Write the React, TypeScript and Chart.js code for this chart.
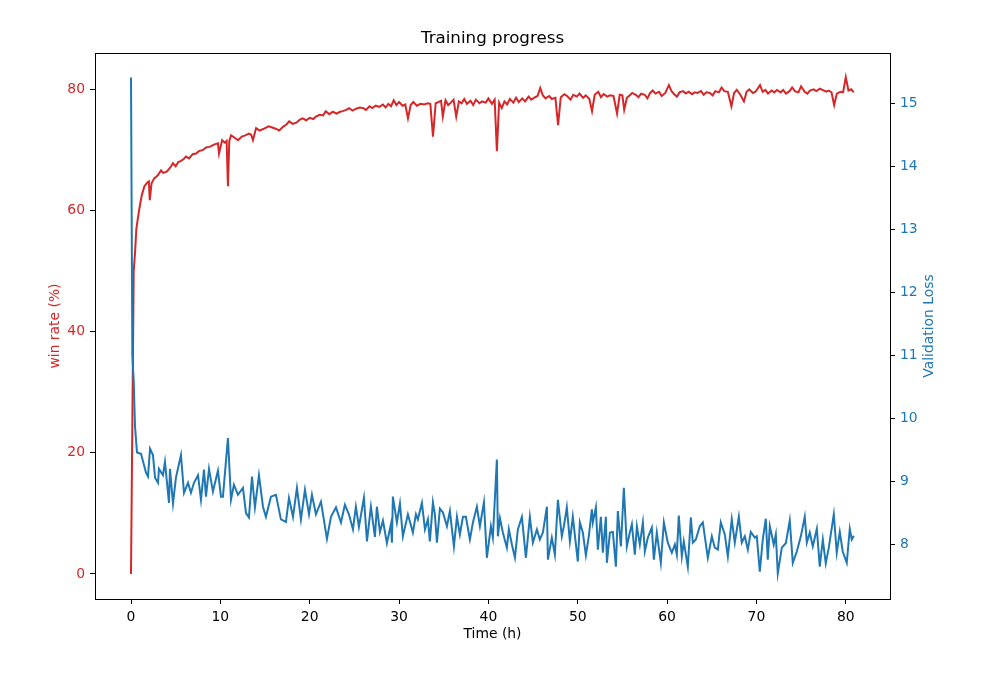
import React, { useEffect, useRef } from "react";
import { Chart, registerables } from "chart.js";

Chart.register(...registerables);

// Win rate series (left axis)
const winTime = [
  0, 0.3, 0.45, 0.6, 0.9, 1.2, 1.5, 1.8, 2.0, 2.1,
  2.3, 2.6, 3.0, 3.36, 3.6, 4.0, 4.4, 4.7, 5.0, 5.3,
  5.6, 5.9, 6.15, 6.5, 6.9, 7.27, 7.6, 8.06, 8.4, 8.8,
  9.17, 9.5, 9.73, 9.85, 10.2, 10.5, 10.7, 10.85, 11.0, 11.2,
  11.6, 11.97, 12.4, 12.8, 13.2, 13.45, 13.65, 14.0, 14.4, 14.9,
  15.4, 15.8, 16.2, 16.6, 17.0, 17.4, 17.7, 18.1, 18.5, 18.9,
  19.2, 19.6, 20.0, 20.4, 20.7, 21.1, 21.5, 21.8, 22.2, 22.6,
  23.0, 23.4, 23.7, 24.1, 24.4, 24.8, 25.2, 25.6, 26.0, 26.3,
  26.7, 27.0, 27.4, 27.8, 28.2, 28.5, 28.8, 29.1, 29.4, 29.7,
  30.0, 30.4, 30.7, 31.0, 31.3, 31.6, 32.0, 32.4, 32.8, 33.2,
  33.5, 33.8, 34.1, 34.4, 34.7, 34.9, 35.2, 35.5, 35.8, 36.1,
  36.4, 36.7, 37.0, 37.3, 37.6, 38.0, 38.3, 38.6, 39.0, 39.3,
  39.7, 40.0, 40.4, 40.7, 40.95, 41.2, 41.5, 41.8, 42.1, 42.4,
  42.8, 43.1, 43.4, 43.8, 44.1, 44.5, 44.8, 45.1, 45.5, 45.8,
  46.1, 46.4, 46.8, 47.1, 47.5, 47.8, 48.1, 48.5, 48.8, 49.2,
  49.5, 49.9, 50.2, 50.6, 50.9, 51.3, 51.6, 51.9, 52.3, 52.6,
  52.9, 53.3, 53.6, 54.0, 54.4, 54.7, 55.0, 55.2, 55.5, 55.8,
  56.1, 56.5, 56.8, 57.1, 57.5, 57.8, 58.1, 58.4, 58.7, 59.1,
  59.4, 59.8, 60.2, 60.5, 60.8, 61.1, 61.4, 61.8, 62.1, 62.4,
  62.8, 63.1, 63.4, 63.8, 64.1, 64.4, 64.8, 65.1, 65.4, 65.8,
  66.1, 66.4, 66.8, 67.2, 67.5, 67.8, 68.2, 68.6, 68.9, 69.2,
  69.6, 69.9, 70.4, 70.7, 71.0, 71.3, 71.7, 72.0, 72.3, 72.7,
  73.0, 73.3, 73.7, 74.0, 74.3, 74.7, 75.0, 75.4, 75.7, 76.0,
  76.4, 76.7, 77.1, 77.4, 77.8, 78.1, 78.4, 78.7, 79.0, 79.4,
  79.7, 80.0, 80.3, 80.6, 80.9,
];
const winRate = [
  0, 50, 53, 57, 60, 62.5, 64, 64.6, 64.8, 61.7,
  64.5, 65.3, 65.8, 66.6, 66.2, 66.4, 67.1, 67.8, 67.3, 68.0,
  68.2, 68.5, 68.9, 68.6, 69.3, 69.4, 69.8, 70.0, 70.4, 70.5,
  70.8, 71.0, 71.1, 69.4, 71.6, 71.2, 71.5, 64.0, 71.5, 72.4,
  72.0, 71.6, 72.2, 72.4, 72.7, 72.5, 71.6, 73.6, 73.2, 73.5,
  73.9, 73.7, 73.5, 73.2, 73.8, 74.2, 74.7, 74.3, 74.5, 75.0,
  75.2, 74.9, 75.3, 75.1, 75.5, 75.8, 75.7, 76.4, 75.9, 76.3,
  76.0, 76.3, 76.4, 76.6, 76.9, 76.5, 76.8, 77.0, 76.9, 76.6,
  77.2, 76.9, 77.3, 77.1, 77.5, 77.0, 77.6, 77.2, 78.2, 77.4,
  77.9, 77.3, 77.5, 75.2, 77.4, 77.9, 77.3, 77.6, 77.5, 77.7,
  77.6, 72.2, 77.7, 77.9, 78.1, 75.5, 78.2, 77.4, 77.8, 78.3,
  75.5, 78.0, 77.7, 78.4, 77.6, 78.1, 77.4, 78.3, 77.7, 78.0,
  77.8, 78.5, 77.6, 78.3, 69.8, 77.8, 76.9, 78.0, 77.5, 78.4,
  77.8, 78.6, 77.9, 78.5, 78.0, 78.8, 78.3, 78.6, 78.9, 80.2,
  79.0, 78.5, 78.9, 78.4, 78.6, 74.1, 78.7, 79.2, 78.9, 78.3,
  79.1, 78.8, 79.3, 78.6, 79.0, 78.4, 76.4, 79.1, 79.6, 78.7,
  79.2, 78.8, 79.0, 78.9, 76.0, 79.1, 79.0, 76.6, 78.6, 79.0,
  79.4, 79.1, 78.7, 79.3, 79.1, 78.5, 79.4, 79.8, 79.3, 79.6,
  78.9, 79.4, 80.7, 79.7, 79.2, 78.8, 79.5, 79.7, 79.3, 79.6,
  79.2, 79.5, 79.4, 79.7, 79.1, 79.5, 79.4, 79.0, 79.7, 79.5,
  80.3, 79.7, 79.6, 77.2, 79.4, 79.9, 79.1, 78.0, 79.6, 80.0,
  79.4, 79.6, 80.7, 79.6, 79.9, 79.3, 79.8, 79.5, 79.9, 79.5,
  79.9, 79.3, 79.7, 80.3, 79.7, 79.5, 80.5, 79.6, 79.3, 79.8,
  80.0, 79.7, 80.1, 79.9, 79.6, 79.8, 79.5, 77.4, 79.3, 79.6,
  79.5, 82.0, 79.8, 80.0, 79.5,
];

// Validation loss series (right axis)
const lossTime = [
  0, 0.15, 0.3, 0.45, 0.67, 1.12, 1.68, 1.9, 2.13, 2.46,
  2.69, 3.02, 3.13, 3.58, 3.8, 4.25, 4.36, 4.7, 5.03, 5.59,
  5.93, 6.38, 6.71, 7.05, 7.5, 7.83, 8.17, 8.39, 8.73, 9.17,
  9.73, 10.07, 10.29, 10.85, 11.19, 11.52, 11.97, 12.53, 12.87, 13.2,
  13.54, 13.87, 14.32, 14.77, 15.1, 15.66, 16.22, 16.78, 17.34, 17.68,
  18.13, 18.57, 19.02, 19.47, 19.92, 20.25, 20.7, 21.26, 21.93, 22.38,
  22.94, 23.5, 23.94, 24.39, 24.84, 25.17, 25.51, 26.07, 26.41, 26.85,
  27.3, 27.52, 27.86, 28.2, 28.64, 29.09, 29.2, 29.31, 29.76, 30.1,
  30.43, 30.99, 31.55, 31.89, 32.11, 32.56, 32.9, 33.23, 33.45, 33.79,
  34.01, 34.24, 34.57, 34.91, 35.36, 35.69, 36.14, 36.48, 36.81, 37.15,
  37.48, 37.93, 38.27, 38.71, 39.05, 39.5, 39.83, 40.28, 40.5, 40.95,
  41.06, 41.29, 41.62, 42.07, 42.29, 42.63, 42.97, 43.3, 43.75, 44.2,
  44.64, 44.98, 45.43, 45.76, 46.1, 46.55, 46.66, 47.1, 47.44, 47.78,
  48.22, 48.45, 48.78, 49.12, 49.45, 50.01, 50.24, 50.57, 50.91, 51.24,
  51.58, 51.69, 52.03, 52.25, 52.59, 52.81, 53.15, 53.26, 53.6, 53.93,
  54.27, 54.49, 54.83, 55.16, 55.5, 55.83, 56.06, 56.39, 56.62, 56.95,
  57.29, 57.51, 57.85, 58.29, 58.52, 58.85, 59.3, 59.64, 60.08, 60.53,
  60.87, 61.09, 61.31, 61.65, 61.87, 62.32, 62.66, 62.88, 63.22, 63.66,
  64.0, 64.56, 65.01, 65.34, 65.68, 66.01, 66.46, 66.8, 67.24, 67.58,
  68.03, 68.36, 68.7, 69.04, 69.37, 69.82, 70.04, 70.38, 70.71, 71.05,
  71.27, 71.5, 71.94, 72.17, 72.39, 72.84, 73.29, 73.73, 74.07, 74.52,
  74.97, 75.41, 75.64, 75.97, 76.31, 76.76, 77.09, 77.43, 77.76, 78.1,
  78.66, 78.99, 79.33, 79.66, 80.11, 80.45, 80.67, 80.9,
];
const lossValue = [
  15.41, 11.0, 10.6, 9.87, 9.46, 9.44, 9.14, 9.08, 9.52, 9.42,
  9.06, 8.98, 9.2, 9.1, 9.31, 8.66, 9.2, 8.65, 9.06, 9.42,
  8.82, 8.98, 8.82, 8.98, 9.1, 8.71, 9.19, 8.76, 9.2, 8.84,
  9.17, 8.76, 8.76, 9.69, 8.71, 8.95, 8.79, 8.9, 8.5, 8.43,
  9.08, 8.59, 9.1, 8.6, 8.44, 8.76, 8.79, 8.4, 8.36, 8.74,
  8.44, 8.9, 8.4, 8.87, 8.48, 8.79, 8.48, 8.68, 8.09, 8.44,
  8.59, 8.35, 8.63, 8.48, 8.24, 8.6, 8.28, 8.74, 8.05, 8.6,
  8.12, 8.6, 8.2, 8.38, 8.02, 8.32, 8.03, 8.76, 8.35, 8.65,
  8.13, 8.48, 8.19, 8.48, 8.4, 8.66, 8.24, 8.4, 8.05, 8.67,
  8.48, 8.03, 8.57, 8.51, 8.29, 8.53, 7.97, 8.44, 8.16, 8.44,
  8.44, 8.08, 8.35, 8.6, 8.29, 8.67, 7.79, 8.29, 8.11, 9.35,
  8.13, 8.42, 8.19, 7.95, 8.24, 8.0, 7.79, 8.24, 8.44, 7.79,
  8.44, 8.03, 8.24, 8.08, 8.19, 8.6, 7.76, 8.11, 7.84, 8.71,
  8.13, 8.29, 8.59, 8.05, 8.44, 7.73, 8.35, 8.19, 7.83, 8.13,
  8.56, 8.35, 8.59, 7.92, 8.44, 7.87, 8.44, 7.71, 8.19, 8.2,
  7.65, 8.53, 7.97, 8.9, 7.97, 8.19, 8.32, 7.84, 8.29, 8.0,
  8.35, 7.89, 8.11, 8.27, 7.76, 8.19, 7.71, 8.35, 8.03, 7.87,
  8.0, 7.84, 8.46, 7.81, 8.05, 7.65, 8.43, 8.03, 8.08, 8.29,
  8.35, 7.79, 8.13, 7.95, 7.92, 8.35, 8.16, 7.81, 8.4, 8.03,
  8.44, 8.03, 8.13, 7.92, 8.2, 8.11, 8.13, 7.57, 8.08, 8.41,
  7.76, 8.29, 8.0, 8.16, 7.54, 7.95, 8.02, 8.38, 7.71, 7.89,
  8.13, 8.44, 8.03, 8.19, 7.97, 8.25, 7.65, 8.08, 7.7, 7.95,
  8.48, 7.87, 8.2, 7.89, 7.71, 8.25, 8.08, 8.14,
];

const xTicks = [0, 10, 20, 30, 40, 50, 60, 70, 80];
const winTicks = [0, 20, 40, 60, 80];
const lossTicks = [8, 9, 10, 11, 12, 13, 14, 15];

const RED = "#d62728";
const BLUE = "#1f77b4";
const FONT = "DejaVu Sans";

export default function App() {
  const ref = useRef<HTMLCanvasElement | null>(null);

  useEffect(() => {
    document.body.style.margin = "0";
    const canvas = ref.current;
    if (!canvas) return;

    const framePlugin = {
      id: "frame",
      afterDraw(chart: any) {
        const { ctx, chartArea } = chart;
        ctx.save();
        ctx.strokeStyle = "#000";
        ctx.lineWidth = 1;
        ctx.strokeRect(
          Math.round(chartArea.left) + 0.5,
          Math.round(chartArea.top) + 0.5,
          Math.round(chartArea.right - chartArea.left),
          Math.round(chartArea.bottom - chartArea.top)
        );
        // right axis title, reading bottom to top
        ctx.fillStyle = BLUE;
        ctx.font = `13.9px "${FONT}"`;
        ctx.textAlign = "center";
        ctx.textBaseline = "middle";
        ctx.translate(929.5, (chartArea.top + chartArea.bottom) / 2);
        ctx.rotate(-Math.PI / 2);
        ctx.fillText("Validation Loss", 0, 0);
        ctx.restore();
      },
    };

    const tickGrid = {
      drawOnChartArea: false,
      drawTicks: true,
      tickLength: 5,
      tickColor: "#000",
      tickWidth: 1,
      color: "#000",
    };

    const chart = new Chart(canvas, {
      type: "line",
      data: {
        datasets: [
          {
            label: "win rate",
            data: winTime.map((t, i) => ({ x: t, y: winRate[i] })),
            borderColor: RED,
            borderWidth: 2,
            pointRadius: 0,
            tension: 0,
            yAxisID: "y",
            order: 2,
          },
          {
            label: "Validation Loss",
            data: lossTime.map((t, i) => ({ x: t, y: lossValue[i] })),
            borderColor: BLUE,
            borderWidth: 2,
            pointRadius: 0,
            tension: 0,
            yAxisID: "y2",
            order: 1,
          },
        ],
      },
      options: {
        responsive: false,
        animation: false,
        devicePixelRatio: 1,
        layout: { padding: 0 },
        plugins: {
          legend: { display: false },
          tooltip: { enabled: false },
          title: {
            display: true,
            text: "Training progress",
            color: "#000",
            font: { family: FONT, size: 16.7, weight: "normal" },
            padding: { top: 29, bottom: 4 },
          },
        },
        scales: {
          x: {
            type: "linear",
            min: -4.03,
            max: 84.95,
            border: { display: false },
            grid: tickGrid,
            afterBuildTicks: (s: any) => {
              s.ticks = xTicks.map((v) => ({ value: v }));
            },
            afterFit: (s: any) => {
              s.height = 83;
            },
            ticks: {
              color: "#000",
              padding: 5,
              maxRotation: 0,
              font: { family: FONT, size: 13.9 },
            },
            title: {
              display: true,
              text: "Time (h)",
              color: "#000",
              font: { family: FONT, size: 13.9 },
              padding: { top: 0, bottom: 39.2 },
            },
          },
          y: {
            type: "linear",
            position: "left",
            min: -4.13,
            max: 85.99,
            border: { display: false },
            grid: tickGrid,
            afterBuildTicks: (s: any) => {
              s.ticks = winTicks.map((v) => ({ value: v }));
            },
            afterFit: (s: any) => {
              s.width = 95;
            },
            ticks: {
              color: RED,
              padding: 5,
              font: { family: FONT, size: 13.9 },
            },
            title: {
              display: true,
              text: "win rate (%)",
              color: RED,
              font: { family: FONT, size: 13.9 },
              padding: { top: 46.7, bottom: 0 },
            },
          },
          y2: {
            type: "linear",
            position: "right",
            min: 7.136,
            max: 15.798,
            border: { display: false },
            grid: tickGrid,
            afterBuildTicks: (s: any) => {
              s.ticks = lossTicks.map((v) => ({ value: v }));
            },
            afterFit: (s: any) => {
              s.width = 95;
            },
            ticks: {
              color: BLUE,
              padding: 5,
              font: { family: FONT, size: 13.9 },
            },
          },
        },
      },
      plugins: [framePlugin],
    });

    return () => {
      chart.destroy();
    };
  }, []);

  return (
    <div style={{ position: "absolute", left: 0, top: 0, width: 985, height: 682, background: "#fff" }}>
      <canvas ref={ref} width={985} height={682} style={{ display: "block" }} />
    </div>
  );
}
